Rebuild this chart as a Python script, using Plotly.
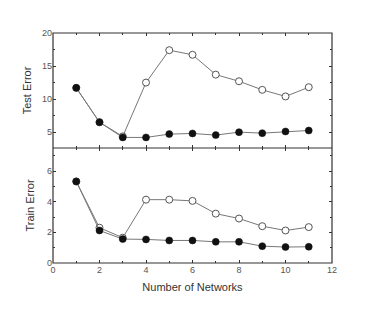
import plotly.graph_objects as go
from plotly.subplots import make_subplots

networks = [1, 2, 3, 4, 5, 6, 7, 8, 9, 10, 11]
test_open = [11.7, 6.5, 4.35, 12.5, 17.4, 16.7, 13.7, 12.7, 11.4, 10.4, 11.8]
test_filled = [11.7, 6.5, 4.2, 4.2, 4.7, 4.8, 4.55, 5.0, 4.85, 5.1, 5.25]
train_open = [5.32, 2.3, 1.65, 4.13, 4.13, 4.05, 3.22, 2.9, 2.4, 2.12, 2.34]
train_filled = [5.32, 2.12, 1.56, 1.54, 1.47, 1.47, 1.38, 1.38, 1.1, 1.04, 1.06]

fig = make_subplots(rows=2, cols=1, shared_xaxes=True, vertical_spacing=0)

line_col = "#777777"
for row, (o, f) in enumerate([(test_open, test_filled), (train_open, train_filled)], start=1):
    fig.add_trace(go.Scatter(x=networks, y=o, mode="lines+markers",
                             line=dict(color=line_col, width=1),
                             marker=dict(symbol="circle", size=7, color="white",
                                         line=dict(color="#555555", width=1)),
                             showlegend=False), row=row, col=1)
    fig.add_trace(go.Scatter(x=networks, y=f, mode="lines+markers",
                             line=dict(color=line_col, width=1),
                             marker=dict(symbol="circle", size=7, color="#111111",
                                         line=dict(color="#111111", width=0.5)),
                             showlegend=False), row=row, col=1)

font = "Liberation Sans, Arial"
axis_common = dict(showline=False, ticks="inside", ticklen=3, tickcolor="#333333",
                   showgrid=False, zeroline=False, automargin=False,
                   tickfont=dict(family=font, size=9, color="#555555"))
minor_common = dict(ticks="inside", ticklen=2, tickcolor="#333333")

fig.update_xaxes(**axis_common, range=[0, 12], dtick=2, mirror="ticks",
                 minor=dict(dtick=1, **minor_common))
fig.update_xaxes(title_text="Number of Networks",
                 title_font=dict(family=font, size=11, color="#333333"),
                 title_standoff=9, row=2, col=1)
fig.update_yaxes(**axis_common, mirror="ticks")
fig.update_yaxes(range=[2.6, 20], tickvals=[5, 10, 15, 20],
                 minor=dict(tickvals=[7.5, 12.5, 17.5], **minor_common),
                 title_text="Test Error",
                 title_font=dict(family=font, size=11, color="#333333"),
                 title_standoff=8, row=1, col=1)
fig.update_yaxes(range=[0, 7.5], tickvals=[0, 2, 4, 6],
                 minor=dict(tickvals=[1, 3, 5, 7], **minor_common),
                 title_text="Train Error",
                 title_font=dict(family=font, size=11, color="#333333"),
                 title_standoff=10, row=2, col=1)

frame = dict(color="#333333", width=1.2)
fig.add_shape(type="rect", xref="paper", yref="paper", x0=0, x1=1, y0=0, y1=1, line=frame)
fig.add_shape(type="line", xref="paper", yref="paper", x0=0, x1=1, y0=0.5, y1=0.5, line=frame)

fig.update_layout(width=358, height=309, margin=dict(l=45, r=34, t=25, b=54),
                  paper_bgcolor="white", plot_bgcolor="white")

fig.write_html("out.html")
